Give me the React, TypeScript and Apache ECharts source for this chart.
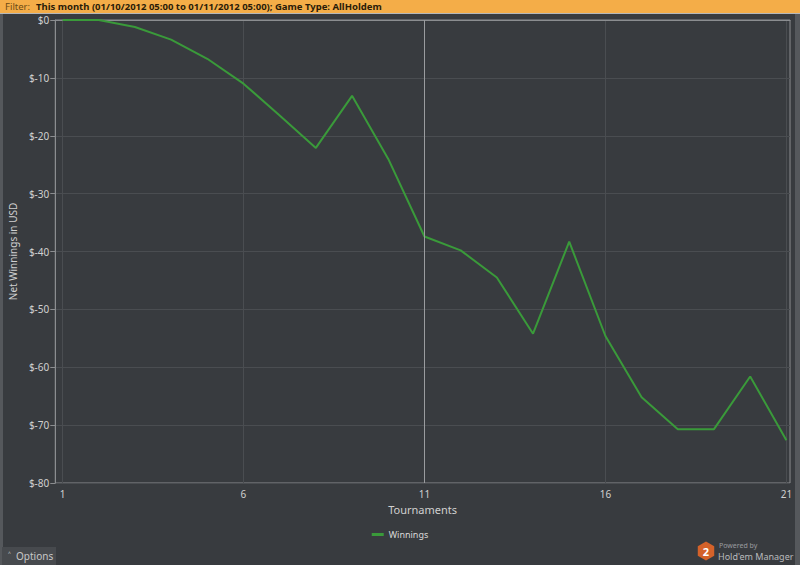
import React, { useEffect, useRef } from "react";
import * as echarts from "echarts";

const tournaments = [1, 2, 3, 4, 5, 6, 7, 8, 9, 10, 11, 12, 13, 14, 15, 16, 17, 18, 19, 20, 21];
const winnings = [0, 0, -1.2, -3.4, -6.7, -11.0, -16.5, -22.1, -13.1, -24.0, -37.4, -39.8, -44.5, -54.2, -38.3, -54.6, -65.2, -70.7, -70.7, -61.6, -72.6];
const xTicks = [1, 6, 11, 16, 21];
const highlightX = [11];
const filterLabel = "Filter:";
const filterText = "This month (01/10/2012 05:00 to 01/11/2012 05:00); Game Type: AllHoldem";

const FONT = "'Noto Sans', 'DejaVu Sans', sans-serif";

export default function App() {
  const ref = useRef<HTMLDivElement>(null);
  useEffect(() => {
    if (!ref.current) return;
    const chart = echarts.init(ref.current, undefined, { renderer: "svg" });
    const hexPts: number[][] = [];
    for (let i = 0; i < 6; i++) {
      const a = (Math.PI / 3) * i + Math.PI / 6;
      hexPts.push([706 + 9.5 * Math.cos(a), 551 + 9.5 * Math.sin(a)]);
    }
    chart.setOption({
      animation: false,
      backgroundColor: "#383b3f",
      textStyle: { fontFamily: FONT },
      grid: {
        left: 52,
        right: 10,
        top: 20,
        bottom: 82,
        show: true,
        borderColor: "#8b8d90",
        borderWidth: 1,
        backgroundColor: "transparent",
      },
      legend: {
        data: ["Winnings"],
        top: 525,
        left: "center",
        icon: "rect",
        itemWidth: 12,
        itemHeight: 3,
        itemGap: 4,
        textStyle: { color: "#d8d8d8", fontSize: 9, fontFamily: FONT },
      },
      xAxis: {
        type: "value",
        min: 0.8,
        max: 21.1,
        name: "Tournaments",
        nameLocation: "middle",
        nameGap: 18,
        nameTextStyle: { color: "#d0d0d0", fontSize: 11, fontFamily: FONT },
        axisLine: { show: true, lineStyle: { color: "#8b8d90" } },
        axisTick: { show: false, customValues: xTicks },
        axisLabel: {
          customValues: xTicks,
          color: "#d0d0d0",
          fontSize: 10,
          margin: 6,
          fontFamily: FONT,
        },
        splitLine: { show: true, lineStyle: { color: "#4a4d51", width: 1 } },
      },
      yAxis: {
        type: "value",
        min: -80,
        max: 0,
        interval: 10,
        name: "Net Winnings in USD",
        nameLocation: "middle",
        nameGap: 34,
        nameTextStyle: { color: "#d0d0d0", fontSize: 10, fontFamily: FONT },
        axisLine: { show: true, lineStyle: { color: "#8b8d90" } },
        axisTick: { show: true, length: 5, lineStyle: { color: "#8b8d90" } },
        axisLabel: {
          color: "#d0d0d0",
          fontSize: 10,
          lineHeight: 10,
          margin: 6,
          fontFamily: FONT,
          formatter: (v: number) => "$" + v,
        },
        splitLine: { show: true, lineStyle: { color: "#4a4d51", width: 1 } },
      },
      series: [
        {
          name: "Winnings",
          type: "line",
          data: tournaments.map((t, i) => [t, winnings[i]]),
          symbol: "none",
          color: "#3a9a3a",
          lineStyle: { color: "#3a9a3a", width: 2 },
          markLine: {
            silent: true,
            symbol: "none",
            label: { show: false },
            lineStyle: { color: "#9a9c9f", width: 1, type: "solid" },
            data: highlightX.map((x) => ({ xAxis: x })),
          },
        },
      ],
      graphic: [
        { type: "rect", shape: { x: 0, y: 0, width: 800, height: 13 }, style: { fill: "#f4ad48" }, z: 10 },
        { type: "rect", shape: { x: 0, y: 13, width: 800, height: 1 }, style: { fill: "#b5b7ba" }, z: 10 },
        { type: "rect", shape: { x: 0, y: 0, width: 3, height: 565 }, style: { fill: "#55585c" }, z: 9 },
        { type: "rect", shape: { x: 795, y: 13, width: 5, height: 552 }, style: { fill: "#55585c" }, z: 9 },
        {
          type: "text",
          x: 5,
          y: 6.5,
          style: {
            text: filterLabel,
            fill: "#6b4a14",
            font: `9.5px ${FONT}`,
            lineHeight: 10,
            verticalAlign: "middle",
          },
          z: 11,
        },
        {
          type: "text",
          x: 36,
          y: 6.5,
          style: {
            text: filterText,
            fill: "#2a1c08",
            font: `bold 9.5px ${FONT}`,
            lineHeight: 10,
            verticalAlign: "middle",
          },
          z: 11,
        },
        { type: "rect", shape: { x: 2, y: 547, width: 54, height: 18 }, style: { fill: "#474a4e" }, z: 10 },
        {
          type: "text",
          x: 8,
          y: 556,
          style: { text: "˄  Options", fill: "#c8c8c8", font: `10px ${FONT}`, verticalAlign: "middle" },
          z: 11,
        },
        { type: "polygon", shape: { points: hexPts }, style: { fill: "#d4622a" }, z: 10 },
        {
          type: "text",
          x: 706,
          y: 551,
          style: { text: "2", fill: "#ffffff", font: `bold 11px ${FONT}`, align: "center", verticalAlign: "middle" },
          z: 11,
        },
        {
          type: "text",
          x: 719,
          y: 545,
          style: { text: "Powered by", fill: "#9a9c9f", font: `7px ${FONT}`, verticalAlign: "middle" },
          z: 11,
        },
        {
          type: "text",
          x: 718,
          y: 556,
          style: { text: "Hold'em Manager", fill: "#b8babd", font: `9px ${FONT}`, verticalAlign: "middle" },
          z: 11,
        },
      ],
    });
    return () => chart.dispose();
  }, []);
  return <div ref={ref} style={{ width: 800, height: 565, position: "absolute", left: 0, top: 0 }} />;
}
